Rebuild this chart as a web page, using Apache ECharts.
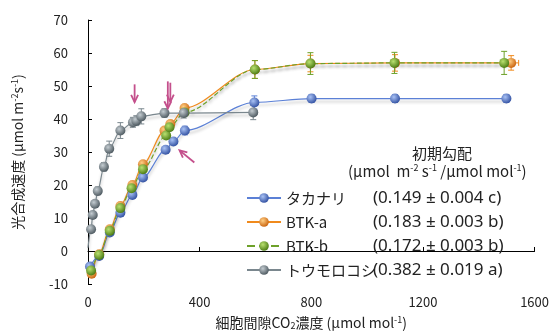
<!DOCTYPE html>
<html><head><meta charset="utf-8">
<script src="https://cdn.jsdelivr.net/npm/echarts@6/dist/echarts.min.js"></script>
<style>html,body{margin:0;padding:0;background:#fff;overflow:hidden}#c{width:552px;height:335px}</style>
</head><body><div id="c"></div>
<script>
// ---- data ----
const seriesNames = ['タカナリ', 'BTK-a', 'BTK-b', 'トウモロコシ'];
const slopeLabels = ['(0.149 ± 0.004 c)', '(0.183 ± 0.003 b)', '(0.172 ± 0.003 b)', '(0.382 ± 0.019 a)'];

const takanariX = [7, 40, 78, 116, 159, 197, 278, 306, 347, 596, 801, 1100, 1499];
const takanariY = [-4.7, -1.5, 5.6, 11.6, 17, 22.3, 30.7, 33.2, 36.5, 45, 46.2, 46.2, 46.2];
const takanariE = [0.5, 0.5, 0.5, 0.8, 0.6, 0.6, 0.5, 0.6, 1.3, 2, 1.2, 1.2, 1.2];

const btkaX = [13, 40, 78, 116, 159, 197, 274, 295, 346, 598, 797, 1100, 1516];
const btkaY = [-6.9, -1.0, 6.6, 13.6, 20, 26.3, 36.5, 38.5, 43.3, 55, 56.8, 57, 57];
const btkaE = [0.5, 0.5, 0.5, 0.6, 0.6, 0.6, 0.6, 0.6, 0.8, 2.7, 2.5, 2.5, 2.2];
const btkaXE = [0, 0, 0, 0, 0, 0, 0, 0, 0, 0, 0, 0, 27];

const btkbX = [11, 40, 78, 116, 156, 197, 280, 292, 346, 598, 797, 1098, 1491];
const btkbY = [-5.9, -1.2, 6.1, 13, 19, 24.8, 35, 37.5, 42, 55, 56.8, 57, 57];
const btkbE = [0.5, 0.5, 0.5, 0.6, 0.6, 0.6, 0.6, 0.6, 0.8, 2.7, 3.3, 3.2, 3.5];

// first maize point is the line start at the axis (no marker visible)
const maizeX = [0, 11, 17, 25, 35, 57, 76, 116, 161, 173, 191, 274, 343, 592];
const maizeY = [1, 6.6, 10.9, 14.3, 18.2, 25.5, 31, 36.5, 39, 39.5, 40.8, 41.8, 41.8, 42];
const maizeE = [0, 0.8, 1, 1, 1.2, 1.3, 2.3, 2.4, 1.5, 1.5, 2.3, 1.3, 1.5, 2.2];
const maizeHidden = [true, false, false, false, false, false, false, false, false, false, false, false, false, false];

// arrows: [x0, y0, x1, y1] in data units (tail -> head)
const arrows = [[167, 50.5, 167, 45.1], [286, 51.4, 286, 43.2], [295, 51, 295, 45.2], [381, 26.8, 328, 30.5]];

const xTicks = { min: 0, max: 1600, interval: 400 };
const yTicks = { min: -10, max: 70, interval: 10 };

// ---- chart ----
const FONT = '"Noto Sans CJK JP", "Noto Sans", sans-serif';
const LATIN = '"Noto Sans", "Noto Sans CJK JP", sans-serif';
const palette = [
  { line: '#5b80d6', light: '#a9c2f5', dark: '#2d4c9e', dash: 'solid' },
  { line: '#f08a1c', light: '#ffcf85', dark: '#c8600a', dash: 'solid' },
  { line: '#6ea12a', light: '#b9e070', dark: '#46770f', dash: 'dashed' },
  { line: '#7a878e', light: '#c4ccd1', dark: '#48545b', dash: 'solid' }
];
const sets = [
  [takanariX, takanariY, takanariE, null, null],
  [btkaX, btkaY, btkaE, btkaXE, null],
  [btkbX, btkbY, btkbE, null, null],
  [maizeX, maizeY, maizeE, null, maizeHidden]
];
function sphere(p) {
  return { type: 'radial', x: 0.38, y: 0.35, r: 0.7,
    colorStops: [{ offset: 0, color: p.light }, { offset: 1, color: p.dark }] };
}
const series = [];
sets.forEach((s, i) => {
  const p = palette[i];
  series.push({
    type: 'custom', silent: true, z: 1,
    encode: { x: 0, y: 1 },
    data: s[0].map((x, k) => [x, s[1][k], s[2][k], s[3] ? s[3][k] : 0]),
    renderItem: (params, api) => {
      const x = api.value(0), y = api.value(1), e = api.value(2), xe = api.value(3);
      const ch = [];
      const st = { stroke: p.line, lineWidth: 1 };
      if (e > 0) {
        const t = api.coord([x, y + e]), b = api.coord([x, y - e]);
        ch.push({ type: 'line', shape: { x1: t[0], y1: t[1], x2: b[0], y2: b[1] }, style: st });
        ch.push({ type: 'line', shape: { x1: t[0] - 3, y1: t[1], x2: t[0] + 3, y2: t[1] }, style: st });
        ch.push({ type: 'line', shape: { x1: b[0] - 3, y1: b[1], x2: b[0] + 3, y2: b[1] }, style: st });
      }
      if (xe > 0) {
        const l = api.coord([x - xe, y]), r = api.coord([x + xe, y]);
        ch.push({ type: 'line', shape: { x1: l[0], y1: l[1], x2: r[0], y2: r[1] }, style: st });
        ch.push({ type: 'line', shape: { x1: l[0], y1: l[1] - 3, x2: l[0], y2: l[1] + 3 }, style: st });
        ch.push({ type: 'line', shape: { x1: r[0], y1: r[1] - 3, x2: r[0], y2: r[1] + 3 }, style: st });
      }
      return { type: 'group', children: ch };
    }
  });
  series.push({
    name: seriesNames[i], type: 'line', z: 3,
    data: s[0].map((x, k) => (s[4] && s[4][k]) ? { value: [x, s[1][k]], symbolSize: 0 } : [x, s[1][k]]),
    smooth: 0.3, smoothMonotone: 'x',
    symbol: 'circle', symbolSize: 10,
    lineStyle: { color: p.line, width: 1.2, type: p.dash,
      shadowColor: 'rgba(0,0,0,0.25)', shadowBlur: 3, shadowOffsetY: 3 },
    itemStyle: { color: sphere(p), borderWidth: 0 },
    emphasis: { disabled: true }
  });
});
series.push({
  type: 'custom', silent: true, z: 5,
  data: arrows,
  encode: { x: [0, 2], y: [1, 3] },
  renderItem: (params, api) => {
    const a = api.coord([api.value(0), api.value(1)]);
    const b = api.coord([api.value(2), api.value(3)]);
    const ang = Math.atan2(b[1] - a[1], b[0] - a[0]);
    const h = 8, w = 0.45;
    const p1 = [b[0] - h * Math.cos(ang - w), b[1] - h * Math.sin(ang - w)];
    const p2 = [b[0] - h * Math.cos(ang + w), b[1] - h * Math.sin(ang + w)];
    const st = { stroke: '#c4508c', lineWidth: 1.8, fill: 'none' };
    return { type: 'group', children: [
      { type: 'line', shape: { x1: a[0], y1: a[1], x2: b[0], y2: b[1] }, style: st },
      { type: 'polyline', shape: { points: [p1, b, p2] }, style: st }
    ] };
  }
});

const supStyle = { fontSize: 9, verticalAlign: 'bottom', padding: [0, 0, 7, 0], fontFamily: FONT, color: '#222' };
const subStyle = { fontSize: 9, verticalAlign: 'top', padding: [6, 0, 0, 0], fontFamily: FONT, color: '#222' };

const chart = echarts.init(document.getElementById('c'), null, { renderer: 'canvas', width: 552, height: 335 });
chart.setOption({
  animation: false,
  backgroundColor: '#fff',
  grid: { left: 88, top: 20, width: 449, height: 267 },
  xAxis: {
    type: 'value', min: xTicks.min, max: xTicks.max, interval: xTicks.interval,
    splitLine: { show: false },
    axisLine: { lineStyle: { color: '#000', width: 1 } },
    axisTick: { inside: true, length: 4, lineStyle: { color: '#000' } },
    axisLabel: { color: '#222', fontSize: 13, fontFamily: FONT, margin: 12, formatter: (v) => String(v) },
    name: '細胞間隙CO{sub|2}濃度 (μmol mol{sup|-1})',
    nameLocation: 'middle', nameGap: 31,
    nameTextStyle: { fontSize: 14, color: '#222', fontFamily: FONT, rich: { sup: supStyle, sub: subStyle } }
  },
  yAxis: {
    type: 'value', min: yTicks.min, max: yTicks.max, interval: yTicks.interval,
    splitLine: { show: false },
    axisLine: { show: true, lineStyle: { color: '#000', width: 1 } },
    axisTick: { show: true, inside: true, length: 4, lineStyle: { color: '#000' } },
    axisLabel: { color: '#222', fontSize: 13, fontFamily: FONT, margin: 20 },
    name: '光合成速度 (μmol m{sup|-2}s{sup|-1})',
    nameLocation: 'middle', nameGap: 62,
    nameTextStyle: { fontSize: 14, color: '#222', fontFamily: FONT, rich: { sup: supStyle } }
  },
  legend: {
    orient: 'vertical', left: 241, top: 183,
    data: seriesNames,
    itemWidth: 34, itemHeight: 12, itemGap: 4,
    selectedMode: false,
    formatter: (name) => '{n|' + name + '}{v|' + slopeLabels[seriesNames.indexOf(name)] + '}',
    textStyle: {
      lineHeight: 20,
      rich: {
        n: { width: 87, fontSize: 15, fontFamily: FONT, color: '#222', lineHeight: 20, height: 20 },
        v: { fontSize: 17, fontFamily: LATIN, color: '#222', lineHeight: 20, height: 20 }
      }
    }
  },
  graphic: [
    { type: 'text', left: 412, top: 146,
      style: { text: '初期勾配', font: '15px ' + FONT, fill: '#222' } },
    { type: 'text', left: 348, top: 163,
      style: { text: '(μmol  m{sup|-2} s{sup|-1} /μmol mol{sup|-1})', font: '15px ' + FONT, fill: '#222',
        rich: { sup: supStyle } } }
  ],
  series: series
});
</script></body></html>
